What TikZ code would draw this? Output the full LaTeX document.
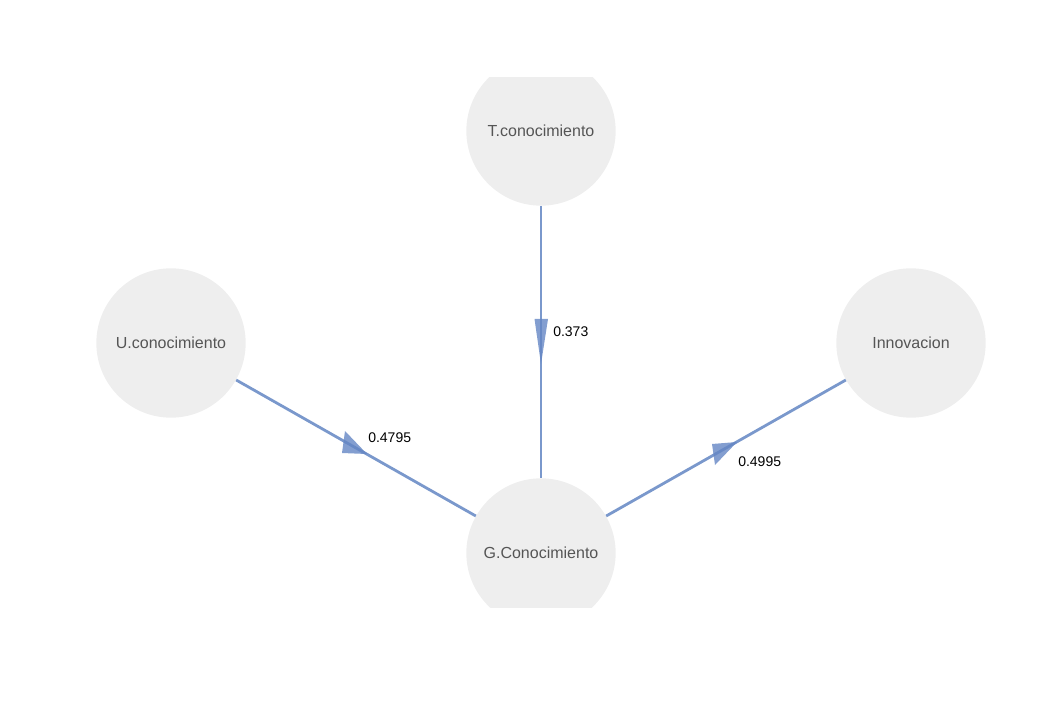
\documentclass[tikz,border=0pt]{standalone}
\usepackage{fontspec}
\setmainfont{Liberation Sans}
\usepackage{xcolor}
\usepackage{tikz}
\usetikzlibrary{positioning}

\definecolor{nodefill}{HTML}{EEEEEE}
\definecolor{nodetext}{HTML}{555555}
\definecolor{edgecol}{RGB}{122,152,204}
\definecolor{headcol}{RGB}{100,134,196}

\begin{document}
\begin{tikzpicture}[
    x=0.75pt, y=-0.75pt,
    var/.style={
        circle, fill=nodefill, draw=none,
        minimum size=112pt, inner sep=0pt,
        text=nodetext, font=\fontsize{12}{14}\selectfont
    },
    path/.style={draw=edgecol, line width=2.1pt},
    head/.style={fill=headcol, fill opacity=0.8},
    coef/.style={anchor=west, inner sep=0pt, font=\fontsize{10.5}{12}\selectfont}
]
\useasboundingbox (0,0) rectangle (1045,705);
\begin{scope}
\clip (0,78) rectangle (1045,607);
\node[var] (T) at (541,131) {T.conocimiento};
\node[var] (U) at (171,343) {U.conocimiento};
\node[var] (I) at (911,343) {Innovacion};
\node[var] (G) at (541,553) {G.Conocimiento};
\end{scope}
% edges with heads at the middle
\draw[path] (T) -- coordinate[pos=0.5] (TG) (G);
\draw[path] (U) -- coordinate[pos=0.5] (UG) (G);
\draw[path] (G) -- coordinate[pos=0.5] (GI) (I);
\fill[head] ([shift={(-6.5,-23)}]TG) -- ([shift={(7,-23)}]TG) -- ([shift={(0,22)}]TG) -- cycle;
\fill[head] ([shift={(-11,-17)}]UG) -- ([shift={(-14,5)}]UG) -- ([shift={(11,6)}]UG) -- cycle;
\fill[head] ([shift={(-11,17)}]GI) -- ([shift={(-14,-4)}]GI) -- ([shift={(11,-6)}]GI) -- cycle;
\node[coef] (cTG) at (553,332) {0.373};
\node[coef] (cUG) at (368,438) {0.4795};
\node[coef] (cGI) at (738,462) {0.4995};
\end{tikzpicture}
\end{document}
